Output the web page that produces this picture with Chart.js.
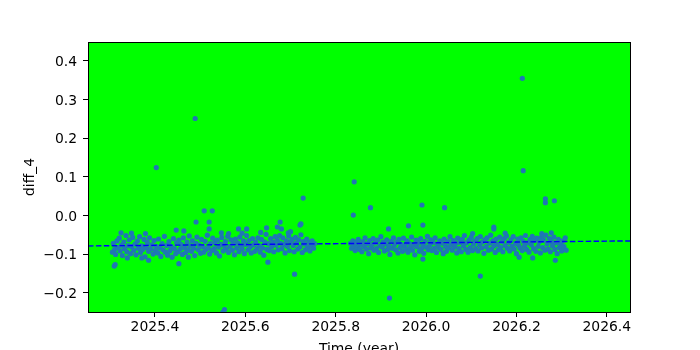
<!DOCTYPE html>
<html>
<head>
<meta charset="utf-8">
<script src="https://cdn.jsdelivr.net/npm/chart.js"></script>
<style>
  html, body { margin: 0; padding: 0; background: #fff; }
  #chart { display: block; }
</style>
</head>
<body>
<canvas id="chart" width="700" height="350"></canvas>
<script>
// first block of observations (time in decimal years)
const t1 = [
  2025.306,2025.308,2025.311,2025.313,2025.316,2025.318,2025.321,2025.323,2025.326,2025.328,
  2025.331,2025.333,2025.336,2025.338,2025.341,2025.343,2025.346,2025.348,2025.351,2025.353,
  2025.356,2025.358,2025.361,2025.363,2025.366,2025.368,2025.371,2025.373,2025.376,2025.378,
  2025.381,2025.383,2025.386,2025.388,2025.391,2025.393,2025.396,2025.398,2025.401,2025.403,
  2025.406,2025.408,2025.411,2025.413,2025.416,2025.418,2025.421,2025.423,2025.426,2025.428,
  2025.431,2025.433,2025.436,2025.438,2025.441,2025.443,2025.446,2025.448,2025.451,2025.453,
  2025.456,2025.458,2025.461,2025.463,2025.466,2025.468,2025.471,2025.473,2025.476,2025.478,
  2025.481,2025.483,2025.486,2025.488,2025.491,2025.493,2025.496,2025.498,2025.501,2025.503,
  2025.506,2025.508,2025.511,2025.513,2025.516,2025.518,2025.521,2025.523,2025.526,2025.528,
  2025.531,2025.533,2025.536,2025.538,2025.541,2025.543,2025.546,2025.548,2025.551,2025.553,
  2025.556,2025.558,2025.561,2025.563,2025.566,2025.568,2025.571,2025.573,2025.576,2025.578,
  2025.581,2025.583,2025.586,2025.588,2025.591,2025.593,2025.596,2025.598,2025.601,2025.603,
  2025.606,2025.608,2025.611,2025.613,2025.616,2025.618,2025.621,2025.623,2025.626,2025.628,
  2025.631,2025.633,2025.636,2025.638,2025.641,2025.643,2025.646,2025.648,2025.651,2025.653,
  2025.656,2025.658,2025.661,2025.663,2025.666,2025.668,2025.671,2025.673,2025.676,2025.678,
  2025.681,2025.683,2025.686,2025.688,2025.691,2025.693,2025.696,2025.698,2025.701,2025.703,
  2025.706,2025.708,2025.711,2025.713,2025.716,2025.718,2025.721,2025.723,2025.726,2025.728,
  2025.731,2025.733,2025.736,2025.738,2025.741,2025.743,2025.746,2025.748,2025.751,2025.753
];
const v1 = [
  -0.095,-0.072,-0.088,-0.101,-0.066,-0.083,-0.059,-0.092,-0.077,-0.104,
  -0.069,-0.086,-0.052,-0.094,-0.078,-0.063,-0.099,-0.081,-0.057,-0.090,
  -0.074,-0.102,-0.067,-0.085,-0.055,-0.096,-0.079,-0.088,-0.062,-0.107,
  -0.083,-0.070,-0.093,-0.058,-0.087,-0.076,-0.100,-0.065,-0.091,-0.080,
  -0.097,-0.061,-0.084,-0.106,-0.073,-0.089,-0.054,-0.095,-0.078,-0.103,
  -0.068,-0.092,-0.081,-0.108,-0.060,-0.086,-0.099,-0.071,-0.094,-0.064,
  -0.087,-0.075,-0.101,-0.058,-0.083,-0.096,-0.069,-0.090,-0.053,-0.079,
  -0.093,-0.066,-0.085,-0.104,-0.072,-0.056,-0.089,-0.077,-0.098,-0.062,
  -0.081,-0.095,-0.067,-0.088,-0.051,-0.084,-0.100,-0.073,-0.091,-0.059,
  -0.086,-0.070,-0.097,-0.064,-0.082,-0.105,-0.075,-0.057,-0.092,-0.078,
  -0.068,-0.088,-0.054,-0.096,-0.080,-0.063,-0.090,-0.073,-0.102,-0.061,
  -0.084,-0.071,-0.094,-0.056,-0.079,-0.087,-0.066,-0.099,-0.075,-0.052,
  -0.089,-0.065,-0.082,-0.097,-0.060,-0.076,-0.093,-0.070,-0.086,-0.058,
  -0.078,-0.095,-0.062,-0.084,-0.103,-0.069,-0.049,-0.088,-0.073,-0.091,
  -0.060,-0.081,-0.070,-0.094,-0.055,-0.077,-0.064,-0.089,-0.052,-0.072,
  -0.086,-0.058,-0.075,-0.097,-0.066,-0.080,-0.053,-0.091,-0.069,-0.062,
  -0.078,-0.094,-0.057,-0.071,-0.087,-0.063,-0.082,-0.050,-0.096,-0.068,
  -0.074,-0.089,-0.061,-0.083,-0.070,-0.092,-0.078,-0.066,-0.085,-0.073
];

// second block of observations
const t2 = [
  2025.833,2025.835,2025.838,2025.840,2025.843,2025.845,2025.848,2025.850,2025.853,2025.855,
  2025.858,2025.860,2025.863,2025.865,2025.868,2025.870,2025.873,2025.875,2025.878,2025.880,
  2025.883,2025.885,2025.888,2025.890,2025.893,2025.895,2025.898,2025.900,2025.903,2025.905,
  2025.908,2025.910,2025.913,2025.915,2025.918,2025.920,2025.923,2025.925,2025.928,2025.930,
  2025.933,2025.935,2025.938,2025.940,2025.943,2025.945,2025.948,2025.950,2025.953,2025.955,
  2025.958,2025.960,2025.963,2025.965,2025.968,2025.970,2025.973,2025.975,2025.978,2025.980,
  2025.983,2025.985,2025.988,2025.990,2025.993,2025.995,2025.998,2026.000,2026.003,2026.005,
  2026.008,2026.010,2026.013,2026.015,2026.018,2026.020,2026.023,2026.025,2026.028,2026.030,
  2026.033,2026.035,2026.038,2026.040,2026.043,2026.045,2026.048,2026.050,2026.053,2026.055,
  2026.058,2026.060,2026.063,2026.065,2026.068,2026.070,2026.073,2026.075,2026.078,2026.080,
  2026.083,2026.085,2026.088,2026.090,2026.093,2026.095,2026.098,2026.100,2026.103,2026.105,
  2026.108,2026.110,2026.113,2026.115,2026.118,2026.120,2026.123,2026.125,2026.128,2026.130,
  2026.133,2026.135,2026.138,2026.140,2026.143,2026.145,2026.148,2026.150,2026.153,2026.155,
  2026.158,2026.160,2026.163,2026.165,2026.168,2026.170,2026.173,2026.175,2026.178,2026.180,
  2026.183,2026.185,2026.188,2026.190,2026.193,2026.195,2026.198,2026.200,2026.203,2026.205,
  2026.208,2026.210,2026.213,2026.215,2026.218,2026.220,2026.223,2026.225,2026.228,2026.230,
  2026.233,2026.235,2026.238,2026.240,2026.243,2026.245,2026.248,2026.250,2026.253,2026.255,
  2026.258,2026.260,2026.263,2026.265,2026.268,2026.270,2026.273,2026.275,2026.278,2026.280,
  2026.283,2026.285,2026.288,2026.290,2026.293,2026.295,2026.298,2026.300,2026.303,2026.305,
  2026.308,2026.310
];
const v2 = [
  -0.072,-0.085,-0.066,-0.079,-0.091,-0.070,-0.083,-0.062,-0.088,-0.075,
  -0.094,-0.068,-0.081,-0.058,-0.087,-0.073,-0.099,-0.065,-0.084,-0.077,
  -0.060,-0.090,-0.071,-0.086,-0.064,-0.096,-0.078,-0.055,-0.082,-0.069,
  -0.092,-0.074,-0.063,-0.088,-0.080,-0.101,-0.067,-0.085,-0.058,-0.076,
  -0.089,-0.070,-0.097,-0.062,-0.083,-0.075,-0.093,-0.059,-0.079,-0.087,
  -0.066,-0.095,-0.072,-0.084,-0.056,-0.090,-0.077,-0.102,-0.064,-0.081,
  -0.071,-0.093,-0.060,-0.086,-0.075,-0.098,-0.067,-0.082,-0.054,-0.089,
  -0.078,-0.063,-0.091,-0.070,-0.085,-0.058,-0.096,-0.074,-0.083,-0.066,
  -0.088,-0.072,-0.099,-0.061,-0.080,-0.093,-0.068,-0.084,-0.055,-0.076,
  -0.090,-0.065,-0.082,-0.073,-0.097,-0.059,-0.086,-0.070,-0.094,-0.062,
  -0.079,-0.052,-0.088,-0.071,-0.095,-0.064,-0.083,-0.057,-0.091,-0.074,
  -0.067,-0.086,-0.060,-0.092,-0.076,-0.055,-0.084,-0.069,-0.098,-0.063,
  -0.081,-0.058,-0.090,-0.072,-0.051,-0.087,-0.066,-0.079,-0.096,-0.061,
  -0.075,-0.089,-0.056,-0.083,-0.068,-0.094,-0.060,-0.078,-0.053,-0.085,
  -0.070,-0.092,-0.063,-0.080,-0.055,-0.087,-0.073,-0.099,-0.061,-0.077,
  -0.084,-0.058,-0.091,-0.067,-0.079,-0.052,-0.088,-0.071,-0.095,-0.062,
  -0.076,-0.054,-0.086,-0.065,-0.093,-0.059,-0.080,-0.069,-0.097,-0.057,
  -0.083,-0.064,-0.090,-0.051,-0.074,-0.087,-0.060,-0.094,-0.068,-0.079,
  -0.056,-0.088,-0.071,-0.099,-0.062,-0.083,-0.075,-0.092,-0.066,-0.081,
  -0.058,-0.090
];

// scattered points away from the main band
const tOut = [
  2025.310,2025.312,2025.325,2025.339,2025.348,2025.371,2025.379,2025.386,2025.403,2025.447,
  2025.453,2025.464,2025.474,2025.489,2025.491,2025.509,2025.520,2025.520,2025.527,2025.547,
  2025.550,2025.554,2025.563,2025.585,2025.593,2025.603,2025.634,2025.647,2025.650,2025.671,
  2025.677,2025.680,2025.695,2025.700,2025.709,2025.721,2025.723,2025.728,2025.839,2025.841,
  2025.877,2025.917,2025.919,2025.961,2025.991,2025.993,2025.993,2026.041,2026.103,2026.120,
  2026.150,2026.150,2026.175,2026.206,2026.213,2026.215,2026.236,2026.256,2026.264,2026.264,
  2026.277,2026.284,2026.286
];
const vOut = [
  -0.131,-0.127,-0.045,-0.110,-0.046,-0.110,-0.047,-0.116,0.124,-0.038,
  -0.125,-0.040,-0.108,0.251,-0.017,0.012,-0.017,-0.035,0.012,-0.045,
  -0.251,-0.244,-0.047,-0.035,-0.046,-0.035,-0.044,-0.032,-0.121,-0.030,
  -0.017,-0.035,-0.045,-0.042,-0.152,-0.025,-0.022,0.045,0.001,0.087,
  0.020,-0.035,-0.214,-0.027,0.027,-0.025,-0.113,0.020,-0.047,-0.157,
  -0.030,-0.035,-0.046,-0.108,0.355,0.116,-0.110,-0.047,0.043,0.033,
  -0.045,0.038,-0.116
];

// linear fit across the full axis
const fitT = [2025.2519, 2026.4513];
const fitV = [-0.079, -0.066];

const xRange = [2025.2519, 2026.4513];
const yRange = [-0.250, 0.449];
const xTicks = [2025.4, 2025.6, 2025.8, 2026.0, 2026.2, 2026.4];
const yTicks = [-0.2, -0.1, 0.0, 0.1, 0.2, 0.3, 0.4];

const pts = (ts, vs) => ts.map((t, i) => ({ x: t, y: vs[i] }));
const fmt = v => (v < 0 ? '\u2212' : '') + Math.abs(v).toFixed(1);

const font = { family: 'DejaVu Sans', size: 13.9 };

const frame = {
  id: 'frame',
  beforeDraw(chart) {
    const { ctx, chartArea: a } = chart;
    ctx.save();
    ctx.fillStyle = '#00ff00';
    ctx.fillRect(a.left, a.top, a.right - a.left, a.bottom - a.top);
    ctx.restore();
  },
  afterDraw(chart) {
    const { ctx, chartArea: a } = chart;
    ctx.save();
    ctx.strokeStyle = '#000';
    ctx.lineWidth = 1;
    ctx.strokeRect(a.left + 0.5, a.top + 0.5, a.right - a.left, a.bottom - a.top);
    ctx.restore();
  }
};

new Chart(document.getElementById('chart'), {
  type: 'scatter',
  data: {
    datasets: [
      {
        data: pts(t1, v1).concat(pts(t2, v2), pts(tOut, vOut)),
        backgroundColor: '#1f77b4',
        borderWidth: 0,
        pointRadius: 2.6,
        pointHoverRadius: 2.6,
        order: 2
      },
      {
        data: pts(fitT, fitV),
        showLine: true,
        borderColor: '#0000ff',
        borderWidth: 1.4,
        borderDash: [5.5, 2.4],
        pointRadius: 0,
        fill: false,
        order: 1
      }
    ]
  },
  options: {
    responsive: false,
    animation: false,
    devicePixelRatio: 1,
    layout: { padding: { top: 42, right: 70, bottom: 0, left: 0 } },
    plugins: { legend: { display: false }, tooltip: { enabled: false } },
    scales: {
      x: {
        type: 'linear',
        min: xRange[0], max: xRange[1],
        afterBuildTicks: s => { s.ticks = xTicks.map(v => ({ value: v })); },
        afterFit: s => { s.height = 38; },
        grid: { drawOnChartArea: false, drawTicks: true, tickLength: 5, color: '#000', lineWidth: 1 },
        border: { display: false },
        ticks: { color: '#000', font, padding: 2, maxRotation: 0, callback: v => fmt(v) },
        title: { display: true, text: 'Time (year)', color: '#000', font, padding: { top: 0, bottom: -8 } }
      },
      y: {
        type: 'linear',
        min: yRange[0], max: yRange[1],
        afterBuildTicks: s => { s.ticks = yTicks.map(v => ({ value: v })); },
        afterFit: s => { s.width = 88; },
        grid: { drawOnChartArea: false, drawTicks: true, tickLength: 5, color: '#000', lineWidth: 1 },
        border: { display: false },
        ticks: { color: '#000', font, padding: 6, labelOffset: 1.5, callback: v => fmt(v) },
        title: { display: true, text: 'diff_4', color: '#000', font, padding: { top: 22, bottom: 0 } }
      }
    }
  },
  plugins: [frame]
});
</script>
</body>
</html>
